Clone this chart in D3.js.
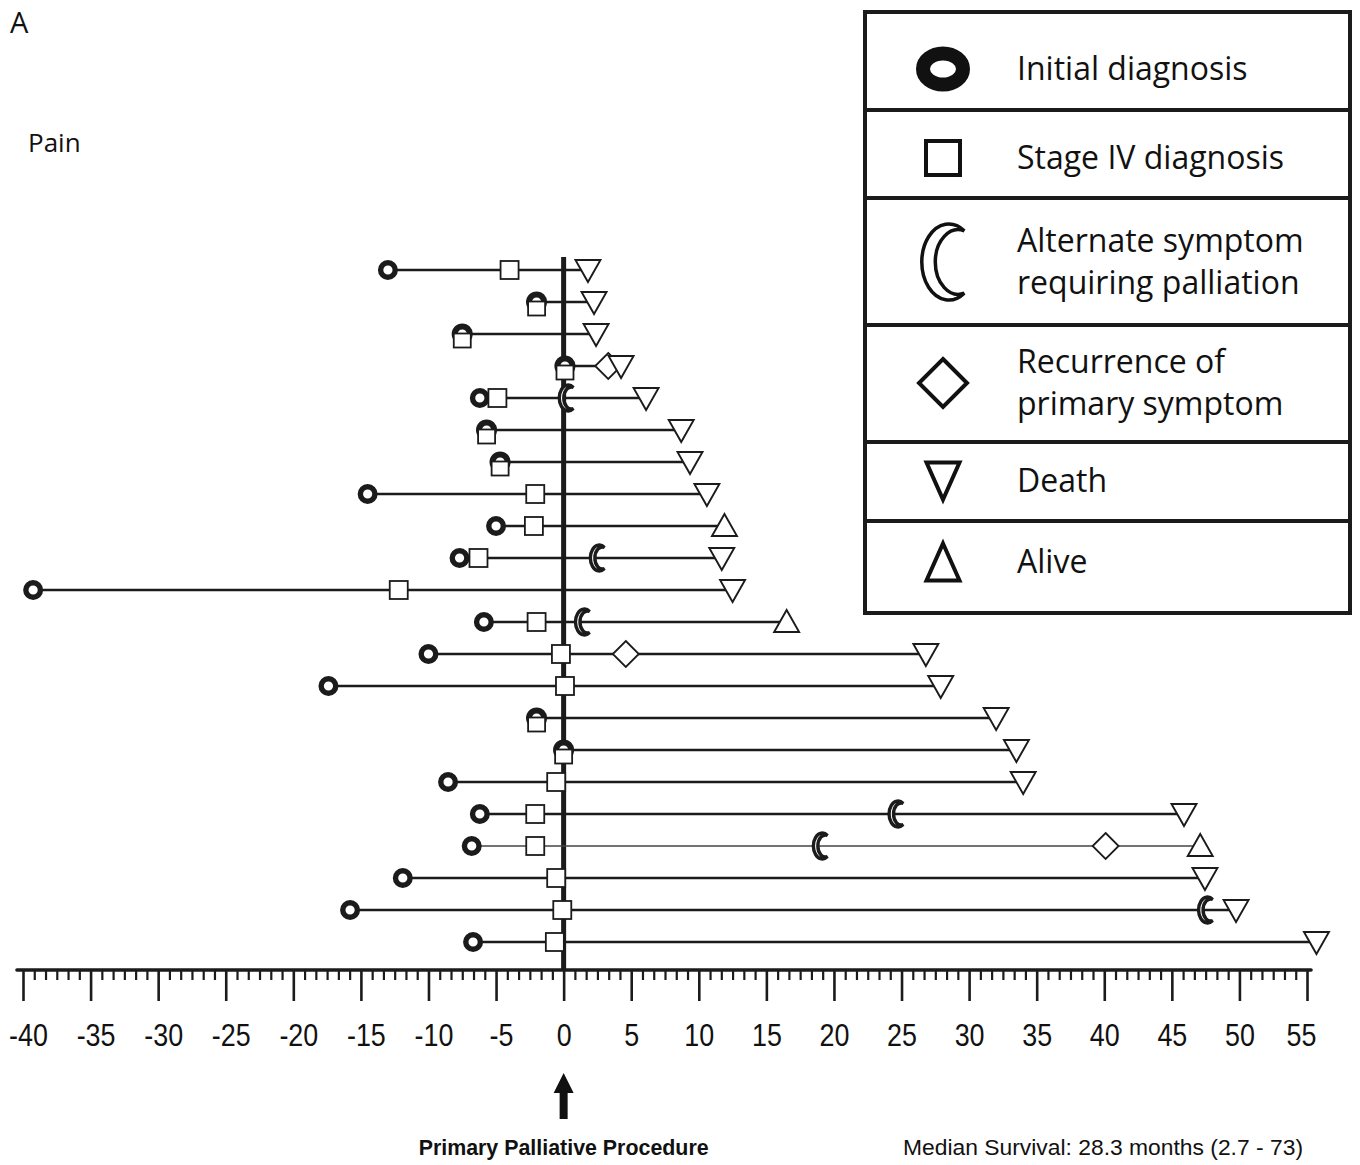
<!DOCTYPE html>
<html>
<head>
<meta charset="utf-8">
<script src="https://cdn.jsdelivr.net/npm/d3@7"></script>
<style>
  html, body { margin: 0; padding: 0; background: #fff; }
  svg { display: block; }
</style>
</head>
<body>
<svg id="chart" width="1360" height="1165"></svg>
<script>
// Patients, ordered by survival after the primary palliative procedure (month 0)
const patients = [1, 2, 3, 4, 5, 6, 7, 8, 9, 10, 11, 12, 13, 14, 15, 16, 17, 18, 19, 20, 21, 22];

// Months relative to the palliative procedure
const initialDiagnosis = [-13.0, -2.0, -7.5, 0.1, -6.2, -5.7, -4.7, -14.5, -5.0, -7.7, -39.25, -5.9, -10.0, -17.4, -2.0, 0.0, -8.55, -6.2, -6.8, -11.9, -15.8, -6.7];
const stageIVDiagnosis = [-4.0, -2.0, -7.5, 0.1, -4.9, -5.7, -4.7, -2.1, -2.2, -6.3, -12.2, -2.0, -0.2, 0.1, -2.0, 0.0, -0.55, -2.1, -2.1, -0.55, -0.1, -0.65];
const alternateSymptom = [null, null, null, null, 0.2, null, null, null, null, 2.5, null, 1.4, null, null, null, null, null, 24.6, 19.0, null, 47.5, null];
const primaryRecurrence = [null, null, null, 3.3, null, null, null, null, null, null, null, null, 4.6, null, null, null, null, null, 40.1, null, null, null];
const lastFollowUp = [1.8, 2.25, 2.4, 4.25, 6.1, 8.7, 9.35, 10.6, 11.9, 11.7, 12.5, 16.5, 26.8, 27.9, 32.0, 33.5, 34.0, 45.9, 47.1, 47.45, 49.75, 55.7];
const outcome = ["Death", "Death", "Death", "Death", "Death", "Death", "Death", "Death", "Alive", "Death", "Death", "Alive", "Death", "Death", "Death", "Death", "Death", "Death", "Alive", "Death", "Death", "Death"];

// Axis
const axisDomain = [-40, 55];
const majorTicks = [-40, -35, -30, -25, -20, -15, -10, -5, 0, 5, 10, 15, 20, 25, 30, 35, 40, 45, 50, 55];

// Legend entries
const legendKeys = ["initial", "stage", "alternate", "recurrence", "death", "alive"];
const legendLines = [
  ["Initial diagnosis"],
  ["Stage IV diagnosis"],
  ["Alternate symptom", "requiring palliation"],
  ["Recurrence of", "primary symptom"],
  ["Death"],
  ["Alive"]
];

const svg = d3.select("#chart");
const INK = "#1b1b1b";
const thinLinePatient = 19;

const x = d3.scaleLinear().domain(axisDomain).range([23, 1307]);
const y = d3.scalePoint().domain(patients).range([270, 942]);
const axisY = 970;

const rows = patients.map((p, i) => ({
  id: p,
  initial: initialDiagnosis[i],
  stage: stageIVDiagnosis[i],
  alt: alternateSymptom[i],
  rec: primaryRecurrence[i],
  end: lastFollowUp[i],
  status: outcome[i]
}));

// Crescent (opening right) built on a unit circle, centred on its bounding box
function crescentPath() {
  const R = 1, r = 0.85, c = 0.35;
  const tx = (R * R - r * r + c * c) / (2 * c);
  const ty = Math.sqrt(R * R - tx * tx);
  const off = (-R + tx) / 2;
  const px = tx - off;
  return `M${px},${-ty} A${R},${R} 0 1,0 ${px},${ty} A${r},${r} 0 1,1 ${px},${-ty} Z`;
}
const CRESCENT = crescentPath();

function triPath(w, h, up) {
  return up
    ? `M0,${-h / 2} L${w / 2},${h / 2} L${-w / 2},${h / 2} Z`
    : `M${-w / 2},${-h / 2} L${w / 2},${-h / 2} L0,${h / 2} Z`;
}

// Condensed look for a text element: shrink its natural width
function condense(sel, k) {
  sel.each(function () {
    const w = this.getComputedTextLength();
    d3.select(this).attr("textLength", w * k).attr("lengthAdjust", "spacingAndGlyphs");
  });
}

// --- vertical reference line at the palliative procedure
svg.append("line")
  .attr("x1", x(0)).attr("x2", x(0))
  .attr("y1", 257).attr("y2", axisY)
  .attr("stroke", INK).attr("stroke-width", 5);

// --- timelines
svg.append("g").selectAll("line.timeline")
  .data(rows)
  .join("line")
  .attr("class", "timeline")
  .attr("x1", d => x(Math.min(d.initial, d.stage)))
  .attr("x2", d => x(d.end))
  .attr("y1", d => y(d.id)).attr("y2", d => y(d.id))
  .attr("stroke", d => d.id === thinLinePatient ? "#444" : INK)
  .attr("stroke-width", d => d.id === thinLinePatient ? 1.6 : 2.6);

// --- markers
const mk = svg.append("g");

rows.forEach(d => {
  const cy = y(d.id);
  const same = Math.abs(d.initial - d.stage) < 0.01;
  // initial diagnosis ring
  mk.append("circle")
    .attr("cx", x(d.initial)).attr("cy", cy)
    .attr("r", same ? 7.6 : 7.3)
    .attr("fill", "#fff").attr("stroke", INK).attr("stroke-width", same ? 6 : 5.4);
  // stage IV diagnosis square (tucked under the ring when simultaneous)
  if (same) {
    mk.append("rect")
      .attr("x", x(d.stage) - 8.5).attr("y", cy - 0.5)
      .attr("width", 17).attr("height", 14)
      .attr("fill", "#fff").attr("stroke", INK).attr("stroke-width", 1.8);
  } else {
    mk.append("rect")
      .attr("x", x(d.stage) - 9).attr("y", cy - 9)
      .attr("width", 18).attr("height", 18)
      .attr("fill", "#fff").attr("stroke", INK).attr("stroke-width", 1.8);
  }
  if (d.rec !== null) {
    mk.append("path")
      .attr("d", "M0,-13 L13,0 L0,13 L-13,0 Z")
      .attr("transform", `translate(${x(d.rec)},${cy})`)
      .attr("fill", "#fff").attr("stroke", INK).attr("stroke-width", 1.8);
  }
  if (d.alt !== null) {
    mk.append("path")
      .attr("d", CRESCENT)
      .attr("transform", `translate(${x(d.alt)},${cy}) scale(9,13)`)
      .attr("fill", "#fff").attr("stroke", INK).attr("stroke-width", 3.4)
      .attr("vector-effect", "non-scaling-stroke");
  }
  const up = d.status === "Alive";
  mk.append("path")
    .attr("d", triPath(25, 22, up))
    .attr("transform", `translate(${x(d.end)},${cy + (up ? -1 : 1)})`)
    .attr("fill", "#fff").attr("stroke", INK).attr("stroke-width", 1.9);
});

// --- time axis
const axisG = svg.append("g").attr("transform", `translate(0,${axisY})`);
const minorTicks = [];
majorTicks.slice(0, -1).forEach(t => {
  for (let k = 1; k <= 5; k++) minorTicks.push(t + k * 5 / 6);
});
axisG.append("g")
  .call(d3.axisBottom(x).tickValues(minorTicks).tickSize(10).tickFormat(""))
  .call(g => g.select(".domain").remove())
  .call(g => g.selectAll(".tick line").attr("stroke", INK).attr("stroke-width", 2.2));
axisG.append("g")
  .call(d3.axisBottom(x).tickValues(majorTicks).tickSize(31).tickFormat(d => d))
  .call(g => g.select(".domain").remove())
  .call(g => g.selectAll(".tick line").attr("stroke", INK).attr("stroke-width", 2.6))
  .call(g => g.selectAll(".tick text")
    .attr("y", 76).attr("dy", 0)
    .attr("dx", d => d < 0 ? 5 : (d === 55 ? -6 : 0))
    .attr("fill", "#111")
    .style("font-family", "'Liberation Sans', Arial, sans-serif")
    .style("font-size", "32px")
    .call(condense, 0.84));
axisG.append("line")
  .attr("x1", 17).attr("x2", 1311)
  .attr("y1", 0).attr("y2", 0)
  .attr("stroke", INK).attr("stroke-width", 3.6).attr("stroke-linecap", "round");

// --- procedure arrow and captions
svg.append("path")
  .attr("d", `M${x(0)},1073 L${x(0) + 10},1093 L${x(0) + 4},1093 L${x(0) + 4},1119 L${x(0) - 4},1119 L${x(0) - 4},1093 L${x(0) - 10},1093 Z`)
  .attr("fill", "#111");

svg.append("text")
  .attr("x", x(0)).attr("y", 1155)
  .attr("text-anchor", "middle")
  .attr("textLength", 290).attr("lengthAdjust", "spacingAndGlyphs")
  .style("font-family", "'Liberation Sans', Arial, sans-serif")
  .style("font-weight", "bold").style("font-size", "22px")
  .attr("fill", "#111")
  .text("Primary Palliative Procedure");

svg.append("text")
  .attr("x", 903).attr("y", 1155)
  .attr("textLength", 400).attr("lengthAdjust", "spacingAndGlyphs")
  .style("font-family", "'Liberation Sans', Arial, sans-serif")
  .style("font-size", "22px")
  .attr("fill", "#111")
  .text("Median Survival: 28.3 months (2.7 - 73)");

// --- panel letter and group title
svg.append("text").attr("x", 10).attr("y", 33)
  .style("font-family", "'Open Sans', 'Noto Sans', sans-serif").style("font-size", "29px")
  .attr("fill", "#111").text("A");
svg.append("text").attr("x", 28).attr("y", 152)
  .style("font-family", "'Open Sans', 'Noto Sans', sans-serif").style("font-size", "26px")
  .attr("fill", "#111").text("Pain");

// --- legend
const legendBounds = [12, 110, 198, 325, 442, 521, 613];
const legendCentres = [69, 158, 262, 383, 481, 562];
const legX0 = 865, legX1 = 1350, iconX = 943, textX = 1017;
const leg = svg.append("g");
leg.append("rect")
  .attr("x", legX0).attr("y", legendBounds[0])
  .attr("width", legX1 - legX0).attr("height", legendBounds[6] - legendBounds[0])
  .attr("fill", "#fff").attr("stroke", INK).attr("stroke-width", 4);
legendBounds.slice(1, -1).forEach(b => {
  leg.append("line").attr("x1", legX0).attr("x2", legX1).attr("y1", b).attr("y2", b)
    .attr("stroke", INK).attr("stroke-width", 4);
});

legendKeys.forEach((key, i) => {
  const cy = legendCentres[i];
  const g = leg.append("g").attr("transform", `translate(${iconX},${cy})`);
  if (key === "initial") {
    g.append("ellipse").attr("rx", 20).attr("ry", 15.5)
      .attr("fill", "#fff").attr("stroke", "#111").attr("stroke-width", 14);
  } else if (key === "stage") {
    g.append("rect").attr("x", -17).attr("y", -17).attr("width", 34).attr("height", 34)
      .attr("fill", "#fff").attr("stroke", "#111").attr("stroke-width", 4);
  } else if (key === "alternate") {
    g.append("path").attr("d", CRESCENT)
      .attr("transform", "scale(27,38)")
      .attr("fill", "#fff").attr("stroke", "#111").attr("stroke-width", 3.5)
      .attr("vector-effect", "non-scaling-stroke");
  } else if (key === "recurrence") {
    g.append("path").attr("d", "M0,-24 L24,0 L0,24 L-24,0 Z")
      .attr("fill", "#fff").attr("stroke", "#111").attr("stroke-width", 4);
  } else if (key === "death") {
    g.append("path").attr("d", triPath(33, 37, false))
      .attr("fill", "#fff").attr("stroke", "#111").attr("stroke-width", 4);
  } else {
    g.append("path").attr("d", triPath(33, 37, true))
      .attr("fill", "#fff").attr("stroke", "#111").attr("stroke-width", 4);
  }
  const lines = legendLines[i];
  const lh = 42;
  const first = cy + 11 - (lines.length - 1) * lh / 2;
  const t = leg.append("text")
    .style("font-family", "'Open Sans', 'Noto Sans', sans-serif").style("font-size", "32px")
    .attr("fill", "#111");
  lines.forEach((ln, j) => {
    t.append("tspan").attr("x", textX).attr("y", first + j * lh).text(ln);
  });
});
</script>
</body>
</html>
